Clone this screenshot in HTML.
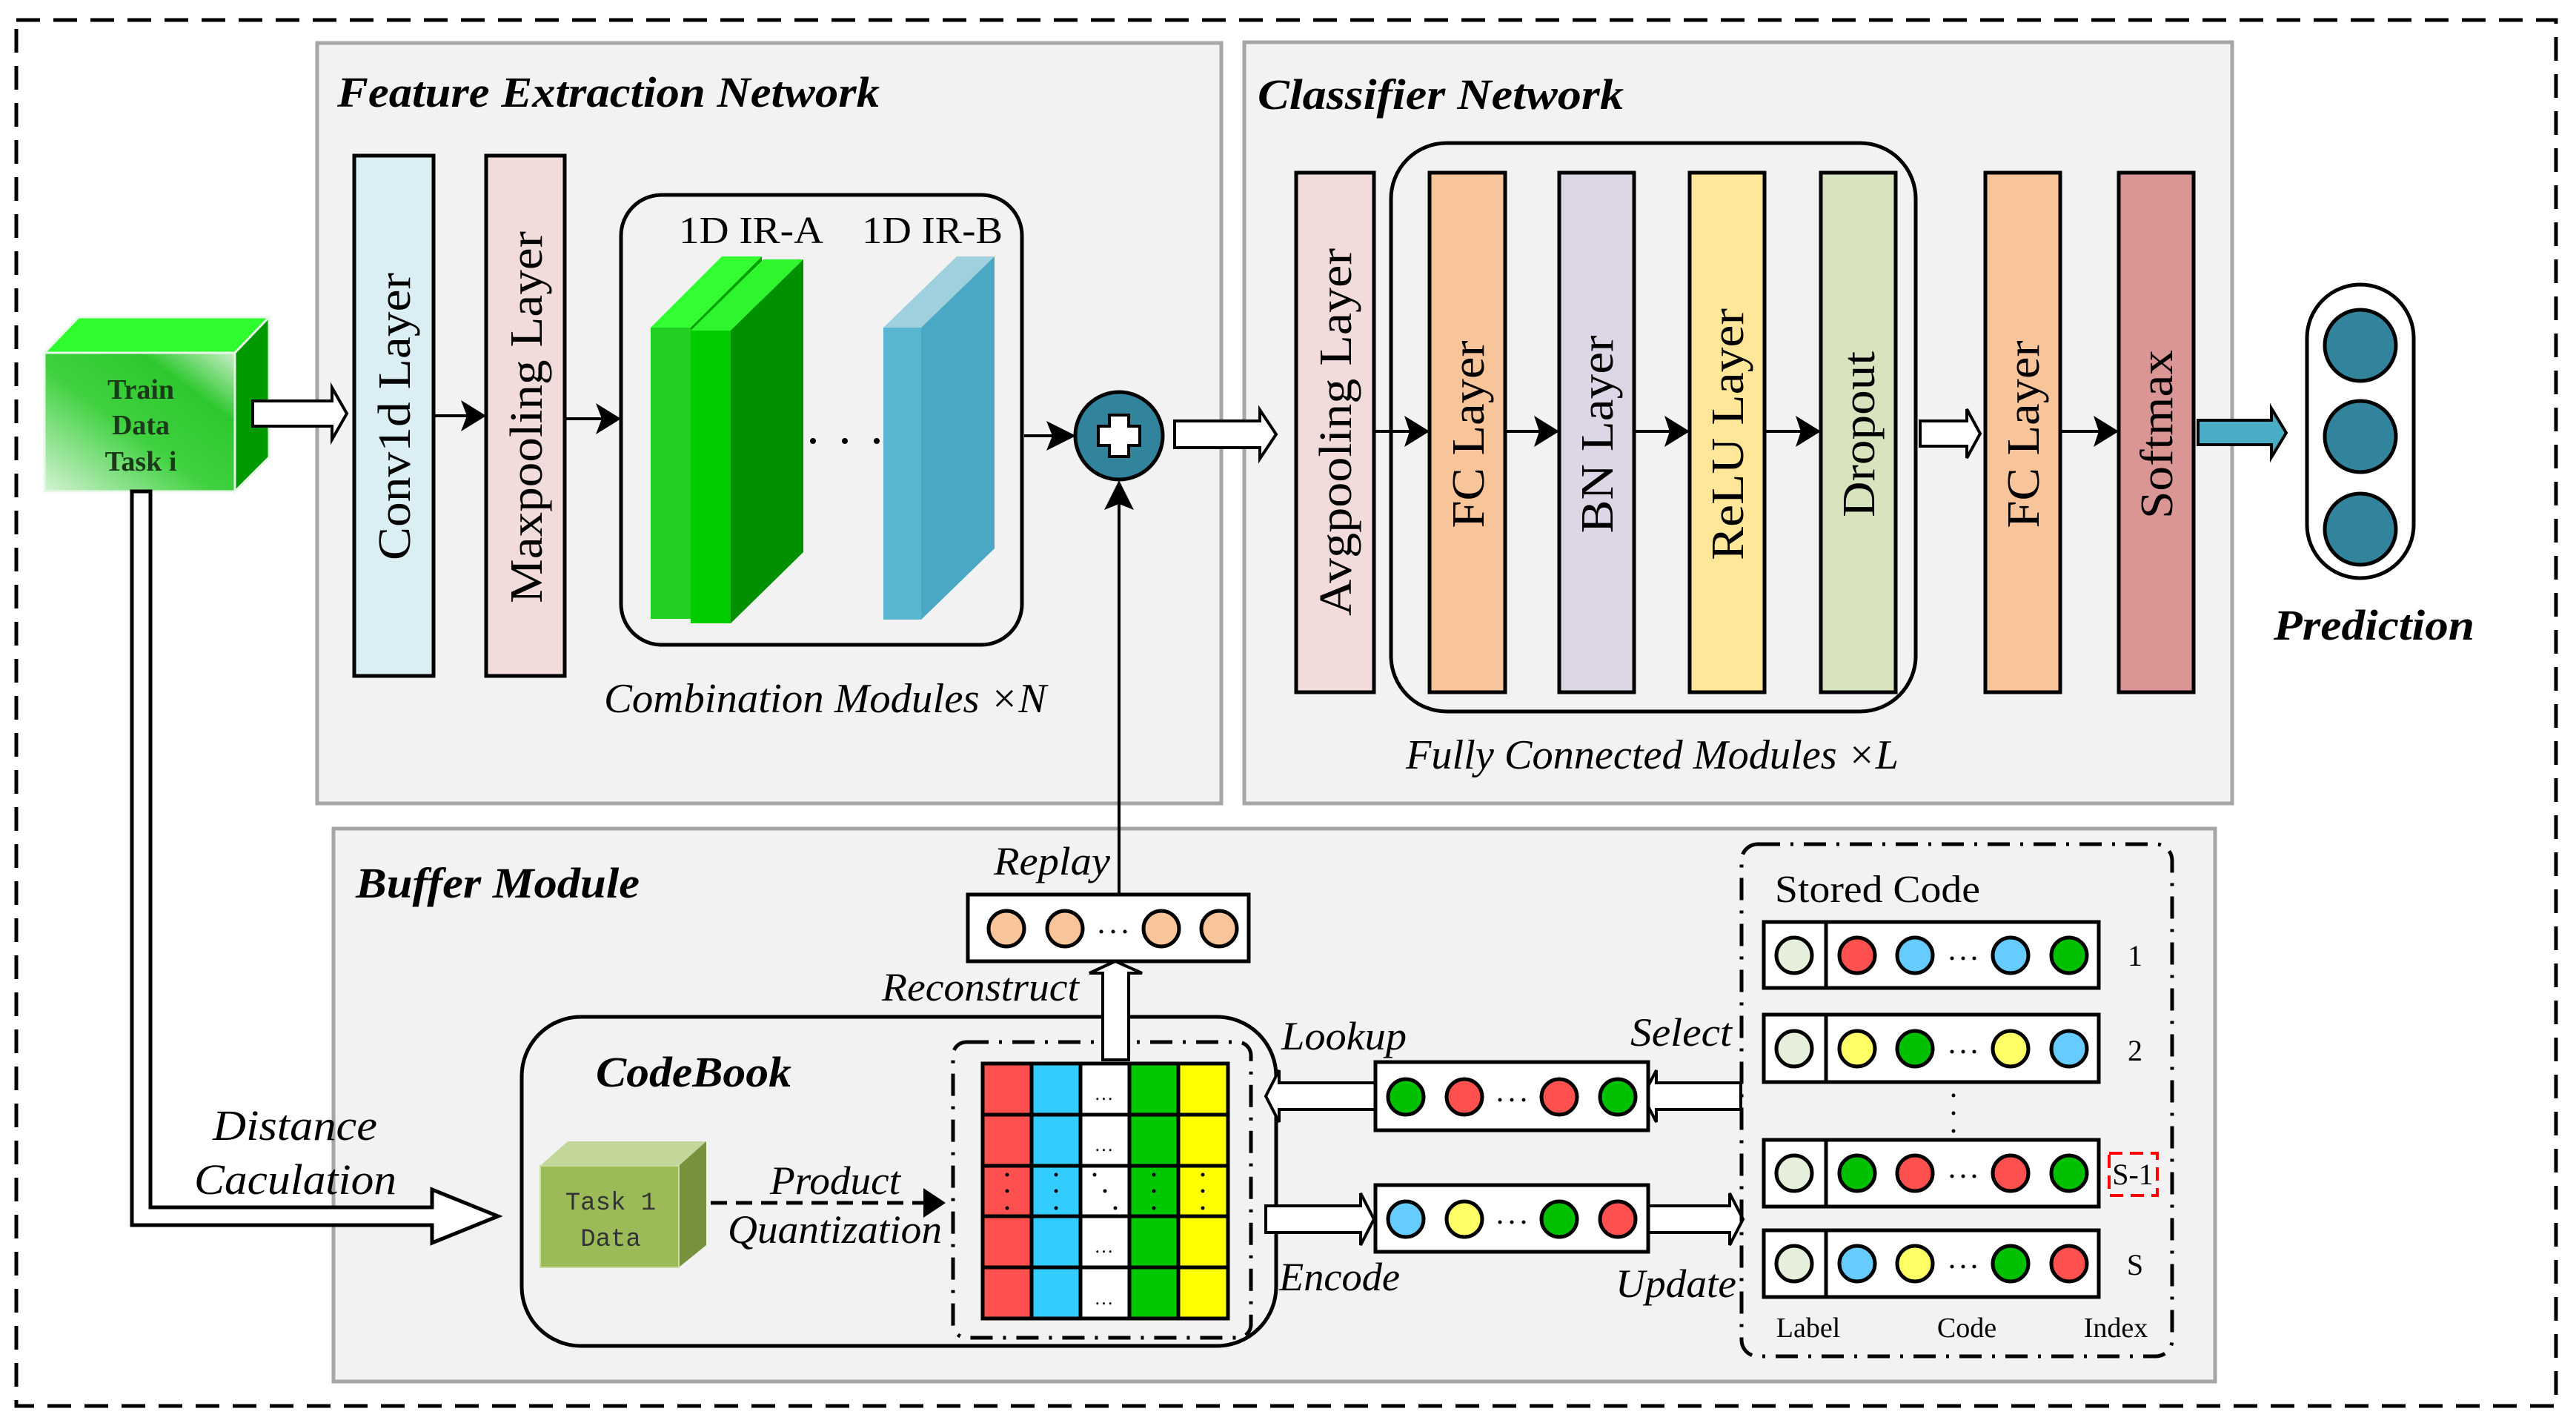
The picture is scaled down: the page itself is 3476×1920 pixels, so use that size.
<!DOCTYPE html>
<html><head><meta charset="utf-8"><style>
html,body{margin:0;padding:0;background:#fff;}
svg{display:block;}
text{font-family:"Liberation Serif",serif;}
</style></head><body>
<svg width="3476" height="1920" viewBox="0 0 3476 1920" xmlns="http://www.w3.org/2000/svg">
<defs>
<linearGradient id="gfront" x1="0" y1="1" x2="1" y2="0">
<stop offset="0" stop-color="#d4f2d4"/><stop offset="0.45" stop-color="#3fd13f"/><stop offset="0.75" stop-color="#2ec82e"/><stop offset="1" stop-color="#c8eec8"/>
</linearGradient>
</defs>

<rect x="22" y="27" width="3427" height="1870" fill="none" stroke="#000" stroke-width="5" stroke-dasharray="32 18"/>

<rect x="428" y="58" width="1220" height="1026" fill="#f2f2f2" stroke="#a6a6a6" stroke-width="5"/>
<rect x="1679" y="57" width="1333" height="1027" fill="#f2f2f2" stroke="#a6a6a6" stroke-width="5"/>
<rect x="450" y="1118" width="2539" height="746" fill="#f2f2f2" stroke="#a6a6a6" stroke-width="5"/>

<g font-size="58" font-weight="bold" font-style="italic">
<text x="455" y="144" textLength="732" lengthAdjust="spacingAndGlyphs">Feature Extraction Network</text>
<text x="1697" y="147" textLength="494" lengthAdjust="spacingAndGlyphs">Classifier  Network</text>
<text x="480" y="1211" textLength="383" lengthAdjust="spacingAndGlyphs">Buffer Module</text>
<text x="3068" y="863" textLength="271" lengthAdjust="spacingAndGlyphs">Prediction</text>
</g>

<polygon points="60,476 317,476 363,428 106,428" fill="#2efc2e" stroke="#e8f8e8" stroke-width="3"/>
<polygon points="317,476 363,428 363,617 317,663" fill="#009900" stroke="#e8f8e8" stroke-width="3"/>
<rect x="60" y="476" width="257" height="187" fill="url(#gfront)" stroke="#e8f8e8" stroke-width="3"/>
<g font-size="38" font-weight="bold" fill="#1a3a1a" text-anchor="middle">
<text x="190" y="538">Train</text><text x="190" y="586">Data</text><text x="190" y="635">Task i</text>
</g>

<polygon points="178,663 178,1653 583,1653 583,1677 672,1641 583,1605 583,1629 203,1629 203,663" fill="#fff" stroke="#000" stroke-width="5"/>
<g font-size="58" font-style="italic">
<text x="287" y="1538" textLength="222" lengthAdjust="spacingAndGlyphs">Distance</text>
<text x="262" y="1611" textLength="273" lengthAdjust="spacingAndGlyphs">Caculation</text>
</g>

<polygon points="341,541 448,541 448,523 468,558 448,593 448,575 341,575" fill="#fff" stroke="#000" stroke-width="4"/>

<rect x="478" y="210" width="107" height="702" fill="#dbeef4" stroke="#000" stroke-width="5"/>
<rect x="656" y="210" width="106" height="702" fill="#f2dcdb" stroke="#000" stroke-width="5"/>
<g font-size="62" text-anchor="middle" dominant-baseline="central">
<text transform="translate(533,562) rotate(-90)" textLength="388" lengthAdjust="spacingAndGlyphs">Conv1d Layer</text>
<text transform="translate(711,563) rotate(-90)" textLength="502" lengthAdjust="spacingAndGlyphs">Maxpooling Layer</text>
</g>

<g stroke="#000" stroke-width="4">
<line x1="585" y1="561" x2="630" y2="561"/>
<line x1="762" y1="565" x2="812" y2="565"/>
<line x1="1382" y1="588" x2="1420" y2="588"/>
<line x1="1510" y1="1207" x2="1510" y2="680"/>
<line x1="1854" y1="582" x2="1902" y2="582"/>
<line x1="2031" y1="582" x2="2077" y2="582"/>
<line x1="2205" y1="582" x2="2253" y2="582"/>
<line x1="2381" y1="582" x2="2430" y2="582"/>
<line x1="2780" y1="582" x2="2832" y2="582"/>
</g>
<g fill="#000">
<polygon points="656,561 622,540 630,561 622,582"/>
<polygon points="838,565 804,544 812,565 804,586"/>
<polygon points="1452,588 1412,568 1420,588 1412,608"/>
<polygon points="1510,648 1490,688 1510,680 1530,688"/>
<polygon points="1929,582 1895,561 1902,582 1895,603"/>
<polygon points="2104,582 2070,561 2077,582 2070,603"/>
<polygon points="2280,582 2246,561 2253,582 2246,603"/>
<polygon points="2457,582 2423,561 2430,582 2423,603"/>
<polygon points="2859,582 2825,561 2832,582 2825,603"/>
</g>

<rect x="838" y="263" width="541" height="607" rx="55" fill="none" stroke="#000" stroke-width="5"/>
<text x="916" y="328" font-size="52" textLength="195" lengthAdjust="spacingAndGlyphs">1D IR-A</text>
<text x="1163" y="328" font-size="52" textLength="190" lengthAdjust="spacingAndGlyphs">1D IR-B</text>
<polygon points="878,442 932,442 1028,346 974,346" fill="#33ff33"/>
<polygon points="932,442 1028,346 1028,740 932,835" fill="#00a000"/>
<rect x="878" y="442" width="54" height="393" fill="#22d022"/>
<polygon points="932,446 986,446 1084,350 1030,350" fill="#2ef52e"/>
<polygon points="986,446 1084,350 1084,745 986,841" fill="#009000"/>
<rect x="932" y="446" width="54" height="395" fill="#00cc00"/>
<polygon points="1192,442 1243,442 1342,346 1291,346" fill="#9fd0dd"/>
<polygon points="1243,442 1342,346 1342,740 1243,836" fill="#4aa8c4"/>
<rect x="1192" y="442" width="51" height="394" fill="#5ab5cf"/>
<g fill="#000"><circle cx="1097" cy="595" r="4"/><circle cx="1140" cy="595" r="4"/><circle cx="1183" cy="595" r="4"/></g>
<text x="815" y="961" font-size="56" font-style="italic" textLength="597" lengthAdjust="spacingAndGlyphs">Combination Modules ×N</text>

<circle cx="1510" cy="588" r="59" fill="#31849b" stroke="#000" stroke-width="5"/>
<polygon points="1497,560 1523,560 1523,575 1538,575 1538,601 1523,601 1523,616 1497,616 1497,601 1482,601 1482,575 1497,575" fill="#fff" stroke="#000" stroke-width="4"/>

<polygon points="1585,568 1700,568 1700,553 1722,586 1700,619 1700,604 1585,604" fill="#fff" stroke="#000" stroke-width="4"/>

<rect x="1877" y="193" width="708" height="767" rx="75" fill="none" stroke="#000" stroke-width="5"/>
<rect x="1749" y="233" width="105" height="701" fill="#f2dcdb" stroke="#000" stroke-width="5"/>
<rect x="1929" y="233" width="102" height="701" fill="#f8c49a" stroke="#000" stroke-width="5"/>
<rect x="2104" y="233" width="101" height="701" fill="#dcd6e6" stroke="#000" stroke-width="5"/>
<rect x="2280" y="233" width="101" height="701" fill="#ffe699" stroke="#000" stroke-width="5"/>
<rect x="2457" y="233" width="101" height="701" fill="#d7e4bd" stroke="#000" stroke-width="5"/>
<rect x="2679" y="233" width="101" height="701" fill="#f8c49a" stroke="#000" stroke-width="5"/>
<rect x="2859" y="233" width="101" height="701" fill="#da9694" stroke="#000" stroke-width="5"/>
<g font-size="62" text-anchor="middle" dominant-baseline="central">
<text transform="translate(1803,583) rotate(-90)" textLength="496" lengthAdjust="spacingAndGlyphs">Avgpooling Layer</text>
<text transform="translate(1982,586) rotate(-90)" textLength="253" lengthAdjust="spacingAndGlyphs">FC Layer</text>
<text transform="translate(2156,586) rotate(-90)" textLength="267" lengthAdjust="spacingAndGlyphs">BN Layer</text>
<text transform="translate(2332,586) rotate(-90)" textLength="340" lengthAdjust="spacingAndGlyphs">ReLU Layer</text>
<text transform="translate(2509,586) rotate(-90)" textLength="224" lengthAdjust="spacingAndGlyphs">Dropout</text>
<text transform="translate(2731,586) rotate(-90)" textLength="253" lengthAdjust="spacingAndGlyphs">FC Layer</text>
<text transform="translate(2911,586) rotate(-90)" textLength="228" lengthAdjust="spacingAndGlyphs">Softmax</text>
</g>
<polygon points="2591,568 2654,568 2654,552 2672,585 2654,618 2654,602 2591,602" fill="#fff" stroke="#000" stroke-width="4"/>
<text x="1897" y="1037" font-size="56" font-style="italic" textLength="665" lengthAdjust="spacingAndGlyphs">Fully Connected Modules ×L</text>

<polygon points="2966,567 3065,567 3065,551 3085,584 3065,617 3065,600 2966,600" fill="#4bacc6" stroke="#000" stroke-width="4"/>
<rect x="3113" y="384" width="144" height="396" rx="72" fill="#fff" stroke="#000" stroke-width="5"/>
<g fill="#31849b" stroke="#000" stroke-width="5">
<circle cx="3185" cy="466" r="48"/><circle cx="3185" cy="589" r="48"/><circle cx="3185" cy="714" r="48"/>
</g>

<text x="1341" y="1180" font-size="54" font-style="italic" textLength="157" lengthAdjust="spacingAndGlyphs">Replay</text>
<rect x="1306" y="1207" width="379" height="90" fill="#fff" stroke="#000" stroke-width="5"/>
<g fill="#f8c49a" stroke="#000" stroke-width="5">
<circle cx="1358" cy="1253" r="24"/><circle cx="1437" cy="1253" r="24"/><circle cx="1567" cy="1253" r="24"/><circle cx="1645" cy="1253" r="24"/>
</g>
<g fill="#000"><circle cx="1486" cy="1257" r="2.5"/><circle cx="1502" cy="1257" r="2.5"/><circle cx="1518" cy="1257" r="2.5"/></g>

<rect x="704" y="1372" width="1018" height="444" rx="80" fill="none" stroke="#000" stroke-width="5"/>
<text x="804" y="1466" font-size="58" font-weight="bold" font-style="italic" textLength="264" lengthAdjust="spacingAndGlyphs">CodeBook</text>
<polygon points="729,1573 916,1573 953,1540 766,1540" fill="#c4d79b"/>
<polygon points="916,1573 953,1540 953,1680 916,1710" fill="#76923c"/>
<rect x="729" y="1573" width="187" height="137" fill="#9bbb59" stroke="#c9dba0" stroke-width="2"/>
<g font-size="34" fill="#333" text-anchor="middle">
<text x="824" y="1632" style="font-family:'Liberation Mono',monospace">Task 1</text>
<text x="824" y="1681" style="font-family:'Liberation Mono',monospace">Data</text>
</g>
<line x1="959" y1="1623" x2="1250" y2="1623" stroke="#000" stroke-width="5" stroke-dasharray="22 12"/>
<polygon points="1276,1623 1246,1603 1246,1643" fill="#000"/>
<g font-size="54" font-style="italic">
<text x="1039" y="1611" textLength="176" lengthAdjust="spacingAndGlyphs">Product</text>
<text x="982" y="1677" textLength="289" lengthAdjust="spacingAndGlyphs">Quantization</text>
</g>

<rect x="1286" y="1406" width="402" height="399" rx="18" fill="none" stroke="#000" stroke-width="5" stroke-dasharray="30 14 4 14"/>
<g stroke="#000" stroke-width="5">
<rect x="1326" y="1435" width="66" height="344" fill="#ff5050"/>
<rect x="1392" y="1435" width="66" height="344" fill="#33ccff"/>
<rect x="1458" y="1435" width="66" height="344" fill="#fff"/>
<rect x="1524" y="1435" width="66" height="344" fill="#00c800"/>
<rect x="1590" y="1435" width="67" height="344" fill="#ffff00"/>
<line x1="1326" y1="1504" x2="1657" y2="1504"/>
<line x1="1326" y1="1573" x2="1657" y2="1573"/>
<line x1="1326" y1="1641" x2="1657" y2="1641"/>
<line x1="1326" y1="1710" x2="1657" y2="1710"/>
</g>
<g font-size="26" text-anchor="middle" fill="#000">
<text x="1491" y="1484" letter-spacing="3">…</text>
<text x="1491" y="1553" letter-spacing="3">…</text>
<text x="1491" y="1690" letter-spacing="3">…</text>
<text x="1491" y="1760" letter-spacing="3">…</text>
</g>
<g fill="#000">
<circle cx="1359" cy="1585" r="2.5"/><circle cx="1359" cy="1607" r="2.5"/><circle cx="1359" cy="1630" r="2.5"/>
<circle cx="1425" cy="1585" r="2.5"/><circle cx="1425" cy="1607" r="2.5"/><circle cx="1425" cy="1630" r="2.5"/>
<circle cx="1477" cy="1585" r="2.5"/><circle cx="1491" cy="1607" r="2.5"/><circle cx="1505" cy="1630" r="2.5"/>
<circle cx="1557" cy="1585" r="2.5"/><circle cx="1557" cy="1607" r="2.5"/><circle cx="1557" cy="1630" r="2.5"/>
<circle cx="1623" cy="1585" r="2.5"/><circle cx="1623" cy="1607" r="2.5"/><circle cx="1623" cy="1630" r="2.5"/>
</g>

<polygon points="1488,1430 1488,1313 1470,1313 1505,1297 1541,1313 1523,1313 1523,1430" fill="#fff" stroke="#000" stroke-width="4"/>
<text x="1190" y="1350" font-size="54" font-style="italic" textLength="266" lengthAdjust="spacingAndGlyphs">Reconstruct</text>

<polygon points="1856,1461 1726,1461 1726,1444 1708,1479 1726,1514 1726,1497 1856,1497" fill="#fff" stroke="#000" stroke-width="4"/>
<polygon points="2349,1461 2235,1461 2235,1444 2217,1479 2235,1514 2235,1497 2349,1497" fill="#fff" stroke="#000" stroke-width="4"/>
<polygon points="1708,1627 1836,1627 1836,1610 1854,1645 1836,1680 1836,1663 1708,1663" fill="#fff" stroke="#000" stroke-width="4"/>
<polygon points="2224,1627 2334,1627 2334,1610 2352,1645 2334,1680 2334,1663 2224,1663" fill="#fff" stroke="#000" stroke-width="4"/>
<g font-size="54" font-style="italic">
<text x="1729" y="1416" textLength="169" lengthAdjust="spacingAndGlyphs">Lookup</text>
<text x="2200" y="1411" textLength="137" lengthAdjust="spacingAndGlyphs">Select</text>
<text x="1726" y="1741" textLength="163" lengthAdjust="spacingAndGlyphs">Encode</text>
<text x="2180" y="1750" textLength="163" lengthAdjust="spacingAndGlyphs">Update</text>
</g>

<rect x="1856" y="1433" width="368" height="92" fill="#fff" stroke="#000" stroke-width="5"/>
<g stroke="#000" stroke-width="5">
<circle cx="1897" cy="1480" r="24" fill="#00c000"/><circle cx="1976" cy="1480" r="24" fill="#ff5050"/>
<circle cx="2104" cy="1480" r="24" fill="#ff5050"/><circle cx="2183" cy="1480" r="24" fill="#00c000"/>
</g>
<rect x="1856" y="1599" width="368" height="90" fill="#fff" stroke="#000" stroke-width="5"/>
<g stroke="#000" stroke-width="5">
<circle cx="1897" cy="1645" r="24" fill="#66ccff"/><circle cx="1976" cy="1645" r="24" fill="#ffff66"/>
<circle cx="2104" cy="1645" r="24" fill="#00c000"/><circle cx="2183" cy="1645" r="24" fill="#ff5050"/>
</g>
<g fill="#000">
<circle cx="2024" cy="1484" r="2.5"/><circle cx="2040" cy="1484" r="2.5"/><circle cx="2056" cy="1484" r="2.5"/>
<circle cx="2024" cy="1649" r="2.5"/><circle cx="2040" cy="1649" r="2.5"/><circle cx="2056" cy="1649" r="2.5"/>
</g>

<rect x="2350" y="1139" width="581" height="691" rx="22" fill="none" stroke="#000" stroke-width="5" stroke-dasharray="30 14 4 14"/>
<text x="2395" y="1217" font-size="52" textLength="277" lengthAdjust="spacingAndGlyphs">Stored Code</text>
<g stroke="#000" stroke-width="5" fill="#fff">
<rect x="2380" y="1244" width="452" height="89"/><line x1="2464" y1="1244" x2="2464" y2="1333"/>
<rect x="2380" y="1369" width="452" height="91"/><line x1="2464" y1="1369" x2="2464" y2="1460"/>
<rect x="2380" y="1538" width="452" height="90"/><line x1="2464" y1="1538" x2="2464" y2="1628"/>
<rect x="2380" y="1660" width="452" height="90"/><line x1="2464" y1="1660" x2="2464" y2="1750"/>
</g>
<g stroke="#000" stroke-width="5">
<circle cx="2421" cy="1289" r="24" fill="#e6eedc"/><circle cx="2506" cy="1289" r="24" fill="#ff5050"/><circle cx="2584" cy="1289" r="24" fill="#66ccff"/><circle cx="2713" cy="1289" r="24" fill="#66ccff"/><circle cx="2792" cy="1289" r="24" fill="#00c000"/>
<circle cx="2421" cy="1415" r="24" fill="#e6eedc"/><circle cx="2506" cy="1415" r="24" fill="#ffff66"/><circle cx="2584" cy="1415" r="24" fill="#00c000"/><circle cx="2713" cy="1415" r="24" fill="#ffff66"/><circle cx="2792" cy="1415" r="24" fill="#66ccff"/>
<circle cx="2421" cy="1583" r="24" fill="#e6eedc"/><circle cx="2506" cy="1583" r="24" fill="#00c000"/><circle cx="2584" cy="1583" r="24" fill="#ff5050"/><circle cx="2713" cy="1583" r="24" fill="#ff5050"/><circle cx="2792" cy="1583" r="24" fill="#00c000"/>
<circle cx="2421" cy="1705" r="24" fill="#e6eedc"/><circle cx="2506" cy="1705" r="24" fill="#66ccff"/><circle cx="2584" cy="1705" r="24" fill="#ffff66"/><circle cx="2713" cy="1705" r="24" fill="#00c000"/><circle cx="2792" cy="1705" r="24" fill="#ff5050"/>
</g>
<g fill="#000">
<circle cx="2634" cy="1293" r="2.5"/><circle cx="2649" cy="1293" r="2.5"/><circle cx="2664" cy="1293" r="2.5"/>
<circle cx="2634" cy="1419" r="2.5"/><circle cx="2649" cy="1419" r="2.5"/><circle cx="2664" cy="1419" r="2.5"/>
<circle cx="2634" cy="1587" r="2.5"/><circle cx="2649" cy="1587" r="2.5"/><circle cx="2664" cy="1587" r="2.5"/>
<circle cx="2634" cy="1709" r="2.5"/><circle cx="2649" cy="1709" r="2.5"/><circle cx="2664" cy="1709" r="2.5"/>
<circle cx="2636" cy="1478" r="2.5"/><circle cx="2636" cy="1502" r="2.5"/><circle cx="2636" cy="1526" r="2.5"/>
</g>
<g font-size="40" text-anchor="middle">
<text x="2881" y="1303">1</text><text x="2881" y="1431">2</text>
<text x="2878" y="1598">S-1</text><text x="2881" y="1720">S</text>
</g>
<rect x="2846" y="1556" width="65" height="57" fill="none" stroke="#ff0000" stroke-width="4" stroke-dasharray="18 10"/>
<g font-size="38" text-anchor="middle">
<text x="2440" y="1804">Label</text><text x="2654" y="1804">Code</text><text x="2855" y="1804">Index</text>
</g>
</svg>
</body></html>
